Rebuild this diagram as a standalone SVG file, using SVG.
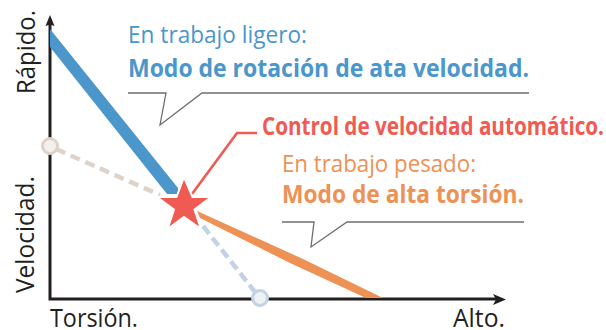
<svg xmlns="http://www.w3.org/2000/svg" width="606" height="330" viewBox="0 0 606 330">
<style>
text{font-family:"Open Sans","Noto Sans","Liberation Sans",sans-serif}
.ax{font-size:25px;fill:#231f20}
.hd{font-size:24.500px;font-weight:400}
.bd{font-size:24.500px;font-weight:700}
.call{fill:none;stroke:#6d6e71;stroke-width:1.300}
.axis{fill:none;stroke:#231f20;stroke-width:3}
.tip{fill:#231f20}
</style>
<rect width="606" height="330" fill="#fff"/>
<g id="connectors">
<path class="call" d="M128 93H166L160 125L202 93H529"/>
<path class="call" d="M282 222H314L311 247L347 222H524"/>
<path fill="none" stroke="#dfd3c8" stroke-width="4.500" stroke-dasharray="10 6" d="M56 149L160 195"/>
<path fill="none" stroke="#c3d2e4" stroke-width="4.500" stroke-dasharray="10 5" d="M203 226L255 292"/>
<path class="axis" d="M50 24V299H496"/>
<path class="tip" d="M50 15L54.500 26L50 24.500L45.500 26Z"/>
<path class="tip" d="M506 299.500L493 294L496 299.500L493 305Z"/>
<path fill="#4b96cb" d="M50 29L178 188V194H167L50 47Z"/>
<path fill="#ee9154" d="M197 211L303 259L383 298H366L290 263L200 218Z"/>
<path fill="none" stroke="#ef5a52" stroke-width="2.600" d="M192 194L237 133H257"/>
</g>
<g id="star"><path fill="#ef5a52" stroke="#fff" stroke-width="2" stroke-linejoin="miter" d="M184 177L192.500 197H211L194.500 209.500L201 229L184 217L167.500 229L174 209.500L157 197H176.500Z"/></g>
<g id="start-point"><circle cx="50" cy="146" r="7.500" fill="#f2f1f0" stroke="#dfd3c8" stroke-width="3"/></g>
<g id="end-point"><circle cx="260" cy="298" r="7.500" fill="#eef1f5" stroke="#c3d2e4" stroke-width="3"/></g>
<g id="axis-labels">
<text class="ax" transform="translate(35 94) rotate(-90)" textLength="84" lengthAdjust="spacingAndGlyphs">Rápido.</text>
<text class="ax" transform="translate(34 293) rotate(-90)" textLength="117" lengthAdjust="spacingAndGlyphs">Velocidad.</text>
<text class="ax" x="50" y="327" textLength="88" lengthAdjust="spacingAndGlyphs">Torsión.</text>
<text class="ax" x="453" y="327" textLength="52" lengthAdjust="spacingAndGlyphs">Alto.</text>
</g>
<g id="light-load">
<text class="hd" x="128" y="43" fill="#4b96cb" textLength="179" lengthAdjust="spacingAndGlyphs">En trabajo ligero:</text>
<text class="bd" x="128" y="77" fill="#4b96cb" textLength="401" lengthAdjust="spacingAndGlyphs">Modo de rotación de ata velocidad.</text>
</g>
<g id="auto-control">
<text class="bd" x="262" y="135" fill="#ef5a52" textLength="342" lengthAdjust="spacingAndGlyphs">Control de velocidad automático.</text>
</g>
<g id="heavy-load">
<text class="hd" x="282" y="172" fill="#ee9154" textLength="194" lengthAdjust="spacingAndGlyphs">En trabajo pesado:</text>
<text class="bd" x="282" y="203" fill="#ee9154" textLength="242" lengthAdjust="spacingAndGlyphs">Modo de alta torsión.</text>
</g>
</svg>
